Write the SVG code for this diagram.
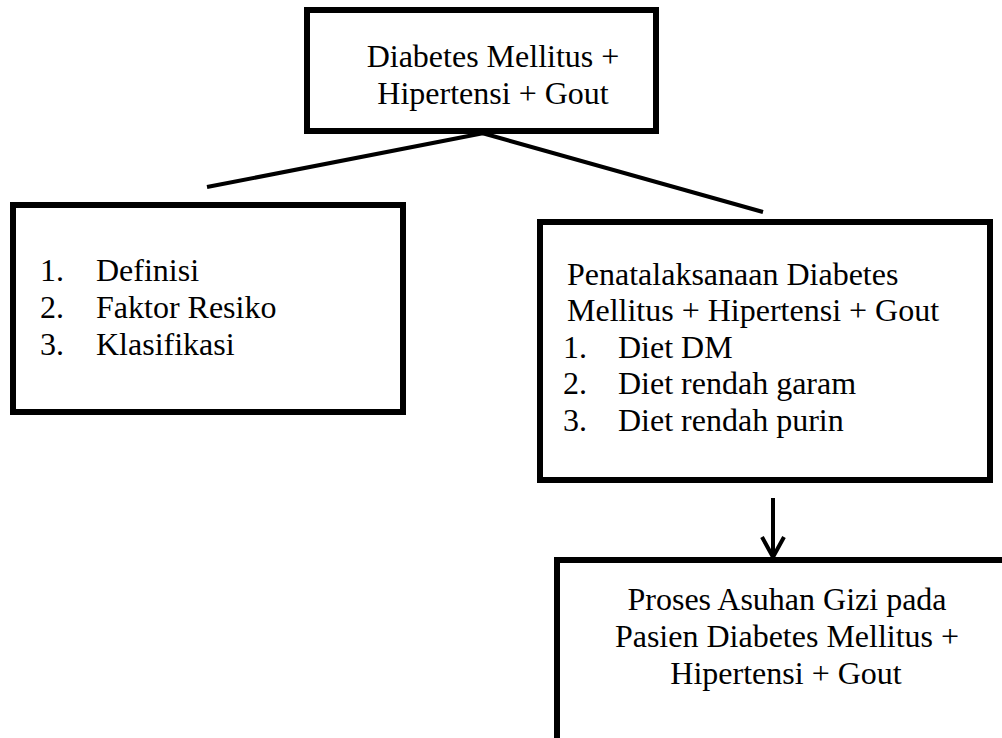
<svg xmlns="http://www.w3.org/2000/svg" width="1002" height="738" viewBox="0 0 1002 738">
<style>
.box{fill:#fff;stroke:#000;stroke-width:6}
.t{font-family:"Liberation Serif","Times New Roman",serif;font-size:32px;fill:#000}
.c{text-anchor:middle}
.ln{stroke:#000;stroke-width:4;fill:none;stroke-linecap:butt}
</style>
<rect width="1002" height="738" fill="#fff"/>
<g id="connectors">
<line class="ln" x1="207" y1="187" x2="484" y2="133"/>
<line class="ln" x1="482" y1="133" x2="763" y2="212"/>
<line class="ln" x1="773" y1="498" x2="773" y2="556"/>
<polyline class="ln" points="762,537 773,557 784,537"/>
</g>
<g id="node-top">
<rect class="box" x="307" y="10" width="349" height="121"/>
<text class="t c" x="493" y="67">Diabetes Mellitus +</text>
<text class="t c" x="493" y="104">Hipertensi + Gout</text>
</g>
<g id="node-left">
<rect class="box" x="13" y="205" width="390" height="207"/>
<text class="t" x="40" y="281">1.</text>
<text class="t" x="96" y="281">Definisi</text>
<text class="t" x="40" y="318">2.</text>
<text class="t" x="96" y="318">Faktor Resiko</text>
<text class="t" x="40" y="355">3.</text>
<text class="t" x="96" y="355">Klasifikasi</text>
</g>
<g id="node-right">
<rect class="box" x="540" y="222" width="450" height="258"/>
<text class="t" x="567" y="285">Penatalaksanaan Diabetes</text>
<text class="t" x="567" y="321">Mellitus + Hipertensi + Gout</text>
<text class="t" x="563" y="358">1.</text>
<text class="t" x="618" y="358">Diet DM</text>
<text class="t" x="563" y="394">2.</text>
<text class="t" x="618" y="394">Diet rendah garam</text>
<text class="t" x="563" y="431">3.</text>
<text class="t" x="618" y="431">Diet rendah purin</text>
</g>
<g id="node-bottom">
<rect class="box" x="557" y="560" width="460" height="200"/>
<text class="t c" x="787" y="610">Proses Asuhan Gizi pada</text>
<text class="t c" x="787" y="647">Pasien Diabetes Mellitus +</text>
<text class="t c" x="786" y="684">Hipertensi + Gout</text>
</g>
</svg>
